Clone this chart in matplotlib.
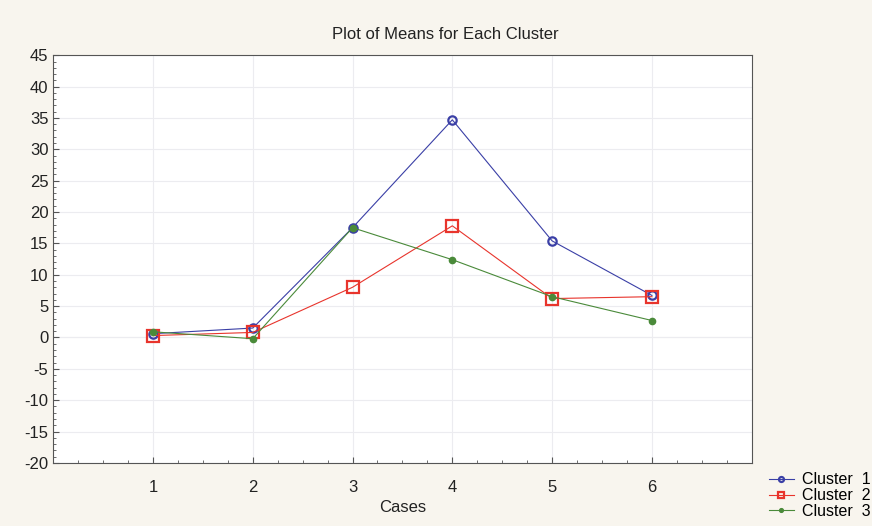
import matplotlib
matplotlib.use('Agg')
from matplotlib import pyplot as plt
from matplotlib.ticker import MultipleLocator

matplotlib.rcParams['font.family'] = ['Liberation Sans', 'DejaVu Sans']
matplotlib.rcParams['axes.unicode_minus'] = False

#%% Data
cases = [1, 2, 3, 4, 5, 6]
cluster1 = [0.6, 1.5, 17.5, 34.7, 15.4, 6.7]
cluster2 = [0.3, 0.8, 8.0, 17.8, 6.2, 6.5]
cluster3 = [0.9, -0.2, 17.5, 12.4, 6.5, 2.7]
labels = ['Cluster  1', 'Cluster  2', 'Cluster  3']

#%% Plot
bg = '#f8f5ee'
fig = plt.figure(figsize=(8.72, 5.26), dpi=100, facecolor=bg)
ax = fig.add_axes([0.061, 0.120, 0.801, 0.775])
ax.set_facecolor('white')

ax.plot(cases, cluster1, '-o', color='#3a3fa6', lw=0.8, ms=6, mfc='none', mew=1.6, label=labels[0])
ax.plot(cases, cluster2, '-s', color='#e8342c', lw=0.8, ms=8, mfc='none', mew=1.6, label=labels[1])
ax.plot(cases, cluster3, '-o', color='#4a8a3a', lw=0.8, ms=4.5, mfc='#4a8a3a', mew=1, label=labels[2])

ax.set_xlim(0, 7)
ax.set_ylim(-20, 45)
ax.set_xticks(cases)
ax.yaxis.set_major_locator(MultipleLocator(5))
ax.yaxis.set_minor_locator(MultipleLocator(1))
ax.xaxis.set_minor_locator(MultipleLocator(0.25))
ax.tick_params(which='both', direction='in', colors='#555555', labelcolor='#222222')
ax.tick_params(which='major', length=4, labelsize=12)
ax.tick_params(which='minor', length=2)
ax.tick_params(axis='x', pad=12)
ax.grid(color='#ececf0', lw=0.8)
ax.axhline(0, color='#e4e4e8', lw=0.8, zorder=0)
for sp in ax.spines.values():
    sp.set_color('#555555')
    sp.set_linewidth(0.8)

ax.set_title('Plot of Means for Each Cluster', fontsize=12, pad=12, color='#222222', x=0.561)
ax.set_xlabel('Cases', fontsize=12, color='#222222', labelpad=4)

leg = ax.legend(loc='upper left', bbox_to_anchor=(0.874, 0.114), bbox_transform=fig.transFigure,
                frameon=False, fontsize=11.5, handlelength=1.6, handletextpad=0.5,
                labelspacing=0.05, borderaxespad=0, markerscale=0.6)

plt.savefig('out.png', dpi=100, facecolor=bg)
